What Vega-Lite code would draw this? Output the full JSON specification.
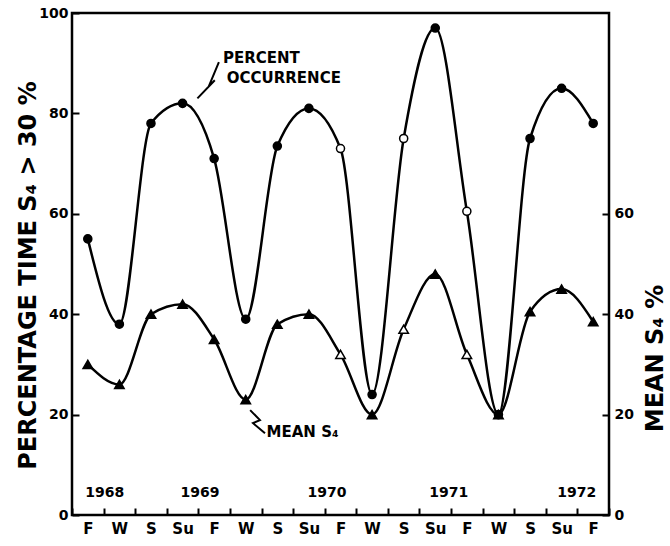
{
  "$schema": "https://vega.github.io/schema/vega-lite/v6.json",
  "width": 537,
  "height": 502,
  "autosize": "none",
  "padding": {"left": 72, "top": 13, "right": 61, "bottom": 31},
  "background": "white",
  "config": {
    "font": "DejaVu Sans",
    "view": {"stroke": "black", "strokeWidth": 2.5},
    "axis": {
      "domain": false,
      "grid": false,
      "labelFont": "DejaVu Sans",
      "labelFontWeight": "bold",
      "labelColor": "black",
      "tickColor": "black",
      "tickWidth": 2,
      "titleFont": "DejaVu Sans",
      "titleFontWeight": "bold",
      "titleColor": "black"
    }
  },
  "datasets": {
    "series": [
      {"t": 0, "season": "F", "series": "Percent occurrence", "v": 55, "status": "measured"},
      {"t": 1, "season": "W", "series": "Percent occurrence", "v": 38, "status": "measured"},
      {"t": 2, "season": "S", "series": "Percent occurrence", "v": 78, "status": "measured"},
      {"t": 3, "season": "Su", "series": "Percent occurrence", "v": 82, "status": "measured"},
      {"t": 4, "season": "F", "series": "Percent occurrence", "v": 71, "status": "measured"},
      {"t": 5, "season": "W", "series": "Percent occurrence", "v": 39, "status": "measured"},
      {"t": 6, "season": "S", "series": "Percent occurrence", "v": 73.5, "status": "measured"},
      {"t": 7, "season": "Su", "series": "Percent occurrence", "v": 81, "status": "measured"},
      {"t": 8, "season": "F", "series": "Percent occurrence", "v": 73, "status": "estimated"},
      {"t": 9, "season": "W", "series": "Percent occurrence", "v": 24, "status": "measured"},
      {"t": 10, "season": "S", "series": "Percent occurrence", "v": 75, "status": "estimated"},
      {"t": 11, "season": "Su", "series": "Percent occurrence", "v": 97, "status": "measured"},
      {"t": 12, "season": "F", "series": "Percent occurrence", "v": 60.5, "status": "estimated"},
      {"t": 13, "season": "W", "series": "Percent occurrence", "v": 20, "status": "measured"},
      {"t": 14, "season": "S", "series": "Percent occurrence", "v": 75, "status": "measured"},
      {"t": 15, "season": "Su", "series": "Percent occurrence", "v": 85, "status": "measured"},
      {"t": 16, "season": "F", "series": "Percent occurrence", "v": 78, "status": "measured"},
      {"t": 0, "season": "F", "series": "Mean S4", "v": 30, "status": "measured"},
      {"t": 1, "season": "W", "series": "Mean S4", "v": 26, "status": "measured"},
      {"t": 2, "season": "S", "series": "Mean S4", "v": 40, "status": "measured"},
      {"t": 3, "season": "Su", "series": "Mean S4", "v": 42, "status": "measured"},
      {"t": 4, "season": "F", "series": "Mean S4", "v": 35, "status": "measured"},
      {"t": 5, "season": "W", "series": "Mean S4", "v": 23, "status": "measured"},
      {"t": 6, "season": "S", "series": "Mean S4", "v": 38, "status": "measured"},
      {"t": 7, "season": "Su", "series": "Mean S4", "v": 40, "status": "measured"},
      {"t": 8, "season": "F", "series": "Mean S4", "v": 32, "status": "estimated"},
      {"t": 9, "season": "W", "series": "Mean S4", "v": 20, "status": "measured"},
      {"t": 10, "season": "S", "series": "Mean S4", "v": 37, "status": "estimated"},
      {"t": 11, "season": "Su", "series": "Mean S4", "v": 48, "status": "measured"},
      {"t": 12, "season": "F", "series": "Mean S4", "v": 32, "status": "estimated"},
      {"t": 13, "season": "W", "series": "Mean S4", "v": 20, "status": "measured"},
      {"t": 14, "season": "S", "series": "Mean S4", "v": 40.5, "status": "measured"},
      {"t": 15, "season": "Su", "series": "Mean S4", "v": 45, "status": "measured"},
      {"t": 16, "season": "F", "series": "Mean S4", "v": 38.5, "status": "measured"}
    ],
    "years": [
      {"t": 0.54, "v": 4.4, "label": "1968"},
      {"t": 3.55, "v": 4.4, "label": "1969"},
      {"t": 7.57, "v": 4.4, "label": "1970"},
      {"t": 11.43, "v": 4.4, "label": "1971"},
      {"t": 15.48, "v": 4.4, "label": "1972"}
    ],
    "notes": [
      {"t": 4.28, "v": 91, "label": "PERCENT"},
      {"t": 4.4, "v": 87, "label": "OCCURRENCE"},
      {"t": 5.66, "v": 16.6, "label": "MEAN  S₄"}
    ],
    "leaders": [
      {"leader": "percent", "k": 0, "t": 4.15, "v": 90.2},
      {"leader": "percent", "k": 1, "t": 3.83, "v": 85.4},
      {"leader": "percent", "k": 2, "t": 4.02, "v": 86.6},
      {"leader": "percent", "k": 3, "t": 3.47, "v": 83},
      {"leader": "mean", "k": 0, "t": 5.14, "v": 20.9},
      {"leader": "mean", "k": 1, "t": 5.45, "v": 18.9},
      {"leader": "mean", "k": 2, "t": 5.23, "v": 18.3},
      {"leader": "mean", "k": 3, "t": 5.61, "v": 16.3}
    ]
  },
  "encoding": {
    "x": {
      "field": "t",
      "type": "quantitative",
      "scale": {"domain": [-0.5, 16.5], "nice": false, "zero": false},
      "axis": {
        "title": null,
        "values": [-0.5, 0.5, 1.5, 2.5, 3.5, 4.5, 5.5, 6.5, 7.5, 8.5, 9.5, 10.5, 11.5, 12.5, 13.5, 14.5, 15.5, 16.5],
        "labelExpr": "datum.value > 16 ? '' : ['F', 'W', 'S', 'Su'][(datum.value + 0.5) % 4]",
        "labelOffset": 15.8,
        "labelFlush": false,
        "labelOverlap": false,
        "labelBound": false,
        "labelFontSize": 15,
        "labelPadding": 13,
        "tickSize": -7
      }
    }
  },
  "resolve": {"axis": {"y": "independent"}},
  "layer": [
    {
      "data": {"name": "series"},
      "transform": [{"filter": "datum.series === 'Percent occurrence'"}],
      "mark": {"type": "line", "interpolate": "monotone", "color": "black", "strokeWidth": 2.5},
      "encoding": {
        "y": {
          "field": "v",
          "type": "quantitative",
          "scale": {"domain": [0, 100], "nice": false},
          "axis": {
            "orient": "left",
            "values": [0, 20, 40, 60, 80, 100],
            "labelFontSize": 14,
            "labelPadding": 11,
            "tickSize": -7,
            "title": "PERCENTAGE TIME S₄ > 30 %",
            "titleFontSize": 24,
            "titleAngle": -90,
            "titleAlign": "center",
            "titleBaseline": "middle",
            "titleX": -44,
            "titleY": 262
          }
        }
      }
    },
    {
      "data": {"name": "series"},
      "transform": [{"filter": "datum.series === 'Mean S4'"}],
      "mark": {"type": "line", "interpolate": "monotone", "color": "black", "strokeWidth": 2.5},
      "encoding": {
        "y": {
          "field": "v",
          "type": "quantitative",
          "axis": {
            "orient": "right",
            "values": [0, 20, 40, 60],
            "labelFontSize": 14,
            "labelPadding": 12,
            "tickSize": -7,
            "title": "MEAN  S₄  %",
            "titleFontSize": 24,
            "titleAngle": -90,
            "titleAlign": "center",
            "titleBaseline": "middle",
            "titleX": 46,
            "titleY": 345
          }
        }
      }
    },
    {
      "data": {"name": "series"},
      "mark": {"type": "point", "filled": true, "stroke": "black", "strokeWidth": 1.5, "opacity": 1},
      "encoding": {
        "y": {"field": "v", "type": "quantitative", "axis": null},
        "shape": {
          "field": "series",
          "type": "nominal",
          "scale": {"domain": ["Percent occurrence", "Mean S4"], "range": ["circle", "triangle-up"]},
          "legend": null
        },
        "size": {
          "field": "series",
          "type": "nominal",
          "scale": {"domain": ["Percent occurrence", "Mean S4"], "range": [65, 90]},
          "legend": null
        },
        "fill": {
          "field": "status",
          "type": "nominal",
          "scale": {"domain": ["measured", "estimated"], "range": ["black", "white"]},
          "legend": null
        }
      }
    },
    {
      "data": {"name": "leaders"},
      "mark": {"type": "line", "color": "black", "strokeWidth": 2},
      "encoding": {
        "y": {"field": "v", "type": "quantitative", "axis": null},
        "detail": {"field": "leader", "type": "nominal"},
        "order": {"field": "k", "type": "quantitative"}
      }
    },
    {
      "data": {"name": "notes"},
      "mark": {"type": "text", "align": "left", "baseline": "middle", "font": "DejaVu Sans", "fontWeight": "bold", "fontSize": 15, "color": "black"},
      "encoding": {
        "y": {"field": "v", "type": "quantitative", "axis": null},
        "text": {"field": "label", "type": "nominal"}
      }
    },
    {
      "data": {"name": "years"},
      "mark": {"type": "text", "align": "center", "baseline": "middle", "font": "DejaVu Sans", "fontWeight": "bold", "fontSize": 14, "color": "black"},
      "encoding": {
        "y": {"field": "v", "type": "quantitative", "axis": null},
        "text": {"field": "label", "type": "nominal"}
      }
    }
  ]
}
